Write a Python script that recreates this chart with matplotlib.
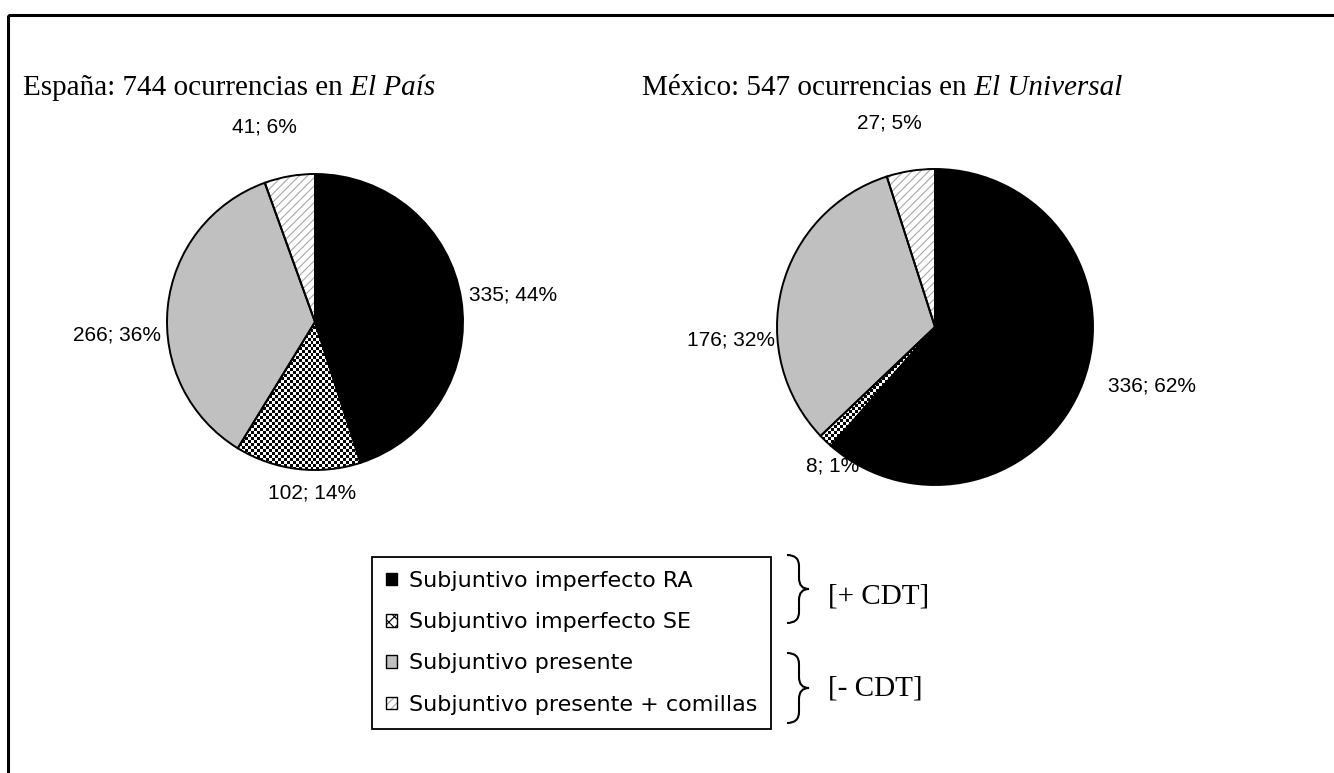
import numpy as np
import matplotlib.pyplot as plt
from matplotlib.patches import Patch, Rectangle, PathPatch
from matplotlib.path import Path

W, H = 1334, 773

CATEGORIES = ["Subjuntivo imperfecto RA", "Subjuntivo imperfecto SE",
              "Subjuntivo presente", "Subjuntivo presente + comillas"]
SPAIN_COUNTS = [335, 102, 266, 41]
SPAIN_PCT = [44, 14, 36, 6]
MEXICO_COUNTS = [336, 8, 176, 27]
MEXICO_PCT = [62, 1, 32, 5]
GROUPS = ["[+ CDT]", "[- CDT]"]

# layout (pixels): pie centre/radius, title start, label anchors in radius units
SPAIN_PIE = (315, 322, 148)
MEXICO_PIE = (935, 327, 158)
SPAIN_LABELS = [(1.04, 0.18, "left"), (-0.02, -1.155, "center"),
                (-1.04, -0.09, "right"), (-0.345, 1.32, "center")]
MEXICO_LABELS = [(1.095, -0.373, "left"), (-0.645, -0.88, "center"),
                 (-1.01, -0.08, "right"), (-0.29, 1.29, "center")]

GREY = "#c0c0c0"
HATCH_GREY = "#a8a8a8"
SERIF = "Liberation Serif"
SANS = "Liberation Sans"

plt.rcParams["hatch.linewidth"] = 0.8

fig = plt.figure(figsize=(W / 100, H / 100), dpi=100)
bg = fig.add_axes([0, 0, 1, 1])
bg.set_xlim(0, W)
bg.set_ylim(H, 0)
bg.axis("off")
bg.add_patch(Rectangle((8, 15), W + 50, H + 50, fill=False, lw=2.2,
                       edgecolor="black"))


def draw_pie(counts, pct, geom, labels):
    cx, cy, r = geom
    ax = fig.add_axes([(cx - r) / W, 1 - (cy + r) / H, 2 * r / W, 2 * r / H])
    colors = ["black", "white", GREY, "white"]
    wedges, _ = ax.pie(counts, colors=colors, startangle=90, counterclock=False,
                       radius=1, wedgeprops=dict(lw=0, clip_on=False))
    wedges[3].set_hatch("////")
    wedges[3].set_edgecolor(HATCH_GREY)
    n = int(round(2 * r / 3))
    board = np.indices((n, n)).sum(axis=0) % 2
    im = ax.imshow(board, cmap="gray", extent=(-1, 1, -1, 1),
                   interpolation="nearest", zorder=1.5)
    im.set_clip_path(wedges[1])
    ax.pie(counts, startangle=90, counterclock=False, radius=1,
           wedgeprops=dict(fill=False, edgecolor="black", lw=1.4,
                           clip_on=False, zorder=3))
    ax.set_xlim(-1, 1)
    ax.set_ylim(-1, 1)
    ax.set_aspect("equal")
    ax.axis("off")
    for c, p, (lx, ly, ha) in zip(counts, pct, labels):
        ax.text(lx, ly, f"{c}; {p}%", ha=ha, va="center", family=SANS,
                size=15)


draw_pie(SPAIN_COUNTS, SPAIN_PCT, SPAIN_PIE, SPAIN_LABELS)
draw_pie(MEXICO_COUNTS, MEXICO_PCT, MEXICO_PIE, MEXICO_LABELS)

# titles with italic newspaper names
titles = [(23, "España: 744 ocurrencias en", "El País"),
          (642, "México: 547 ocurrencias en", "El Universal")]
plain = []
for x, t, _ in titles:
    plain.append(bg.text(x, 95, t, family=SERIF, size=21, va="baseline"))
fig.canvas.draw()
for txt, (_, _, it) in zip(plain, titles):
    x1 = txt.get_window_extent().x1
    bg.text(x1, 95, " " + it, family=SERIF, style="italic", size=21,
            va="baseline")

# legend
handles = [
    Patch(facecolor="black", edgecolor="black"),
    Patch(facecolor="white", edgecolor="black", hatch="XXX"),
    Patch(facecolor=GREY, edgecolor="black"),
    (Patch(facecolor="white", edgecolor=HATCH_GREY, hatch="////", lw=0),
     Patch(facecolor="none", edgecolor="black")),
]
leg = fig.legend(handles, CATEGORIES, loc="upper left",
                 bbox_to_anchor=(372 / W, 1 - 557 / H), borderaxespad=0,
                 prop=dict(family="DejaVu Sans", size=16), fancybox=False,
                 framealpha=1, edgecolor="black", handlelength=0.5,
                 handleheight=0.5, handletextpad=0.55, borderpad=0.62,
                 labelspacing=0.96)
leg.get_frame().set_linewidth(1.3)


def brace(x0, y0, y1, w=22, xm_off=12):
    xm = x0 + xm_off
    ym = (y0 + y1) / 2
    q = 11
    verts = [(x0, y0), (xm, y0), (xm, y0 + q), (xm, ym - q), (xm, ym),
             (x0 + w, ym), (xm, ym), (xm, ym + q), (xm, y1 - q), (xm, y1),
             (x0, y1)]
    codes = [Path.MOVETO, Path.CURVE3, Path.CURVE3, Path.LINETO, Path.CURVE3,
             Path.CURVE3, Path.CURVE3, Path.CURVE3, Path.LINETO, Path.CURVE3,
             Path.CURVE3]
    bg.add_patch(PathPatch(Path(verts, codes), fill=False, lw=1.5,
                           edgecolor="black"))


brace(787, 555, 623)
brace(787, 653, 723)
bg.text(828, 604, GROUPS[0], family=SERIF, size=21, va="baseline")
bg.text(828, 696, GROUPS[1], family=SERIF, size=21, va="baseline")

fig.savefig("out.png", dpi=100)
